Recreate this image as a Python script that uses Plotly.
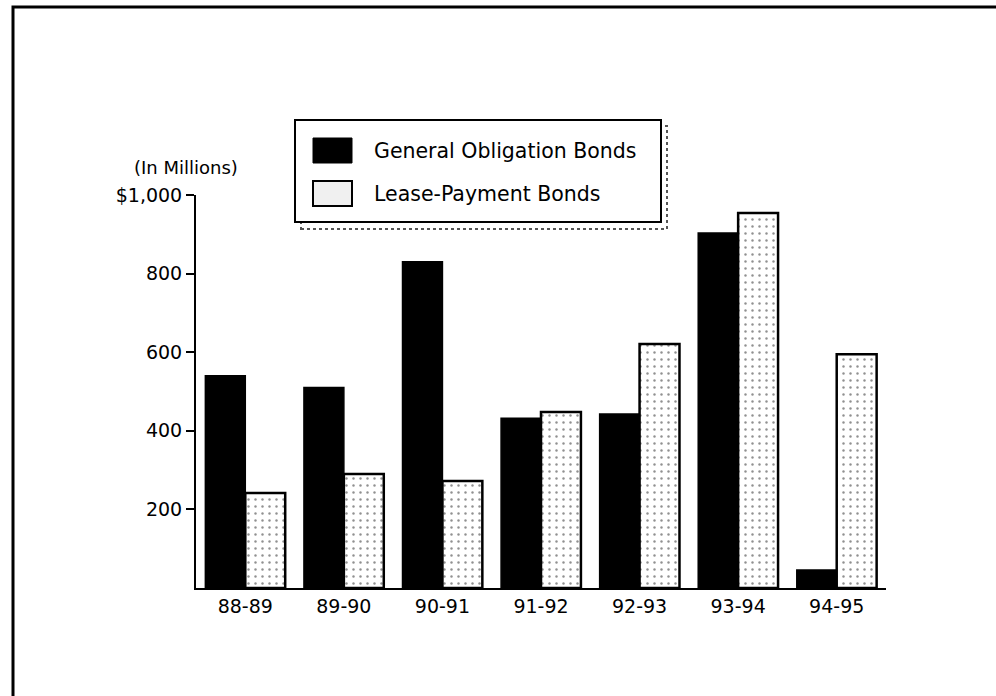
import plotly.graph_objects as go

years = ["88-89", "89-90", "90-91", "91-92", "92-93", "93-94", "94-95"]
general_obligation = [540, 510, 830, 432, 443, 903, 46]
lease_payment = [242, 290, 272, 448, 621, 954, 595]
y_tickvals = [200, 400, 600, 800, 1000]
y_ticktext = ["200", "400", "600", "800", "$1,000"]
series_names = ["General Obligation Bonds", "Lease-Payment Bonds"]

W, H = 996, 696
X0, X1, Y0, Y1 = 196, 886, 195, 588  # plot area in pixels

def px(x):
    return (x - X0) / (X1 - X0)

def py(y):
    return (Y1 - y) / (Y1 - Y0)

FONT = "DejaVu Sans"

fig = go.Figure()
fig.add_trace(go.Bar(
    x=years, y=general_obligation, name=series_names[0],
    marker=dict(color="black", line=dict(color="black", width=1.5)),
    showlegend=False,
))
fig.add_trace(go.Bar(
    x=years, y=lease_payment, name=series_names[1],
    marker=dict(color="white", line=dict(color="black", width=2.5),
                pattern=dict(shape=".", size=7, solidity=0.1, fgcolor="#222", bgcolor="white")),
    showlegend=False,
))

shapes = []
# outer frame (extends beyond the right/bottom edges)
shapes.append(dict(type="rect", xref="paper", yref="paper",
                   x0=px(13), x1=px(1010), y0=py(710), y1=py(7),
                   line=dict(color="black", width=3)))
# legend shadow (dotted)
shapes.append(dict(type="rect", xref="paper", yref="paper",
                   x0=px(301), x1=px(667), y0=py(229), y1=py(126),
                   line=dict(color="#555", width=2, dash="dot")))
# legend box
shapes.append(dict(type="rect", xref="paper", yref="paper",
                   x0=px(295), x1=px(661), y0=py(222), y1=py(120),
                   fillcolor="white", line=dict(color="black", width=2)))
# legend swatches
shapes.append(dict(type="rect", xref="paper", yref="paper",
                   x0=px(313), x1=px(352), y0=py(163), y1=py(138),
                   fillcolor="black", line=dict(color="black", width=1)))
shapes.append(dict(type="rect", xref="paper", yref="paper",
                   x0=px(313), x1=px(352), y0=py(206), y1=py(181),
                   fillcolor="#f0f0f0", line=dict(color="black", width=2)))

annotations = [
    dict(text=series_names[0], xref="paper", yref="paper", x=px(372), y=py(151),
         xanchor="left", yanchor="middle", showarrow=False,
         font=dict(family=FONT, size=20.5, color="black")),
    dict(text=series_names[1], xref="paper", yref="paper", x=px(372), y=py(194),
         xanchor="left", yanchor="middle", showarrow=False,
         font=dict(family=FONT, size=20.5, color="black")),
    dict(text="(In Millions)", xref="paper", yref="paper", x=px(186), y=py(167),
         xanchor="center", yanchor="middle", showarrow=False,
         font=dict(family=FONT, size=18, color="black")),
]

fig.update_layout(
    width=W, height=H,
    margin=dict(l=X0, r=W - X1, t=Y0, b=H - Y1, pad=0),
    paper_bgcolor="white", plot_bgcolor="white",
    barmode="group", bargap=0.19, bargroupgap=0,
    shapes=shapes, annotations=annotations,
    font=dict(family=FONT, size=19, color="black"),
    xaxis=dict(range=[-0.5, 6.5], showline=True, linecolor="black", linewidth=2,
               ticks="", showgrid=False, zeroline=False,
               tickfont=dict(family=FONT, size=19, color="black")),
    yaxis=dict(range=[0, 1000], showline=True, linecolor="black", linewidth=2,
               ticks="outside", ticklen=8, tickwidth=2, tickcolor="black",
               tickvals=y_tickvals, ticktext=y_ticktext,
               showgrid=False, zeroline=False,
               tickfont=dict(family=FONT, size=19, color="black")),
)

fig.write_html("out.html", config={"displayModeBar": False},
               post_script="document.body.style.margin='0';")
